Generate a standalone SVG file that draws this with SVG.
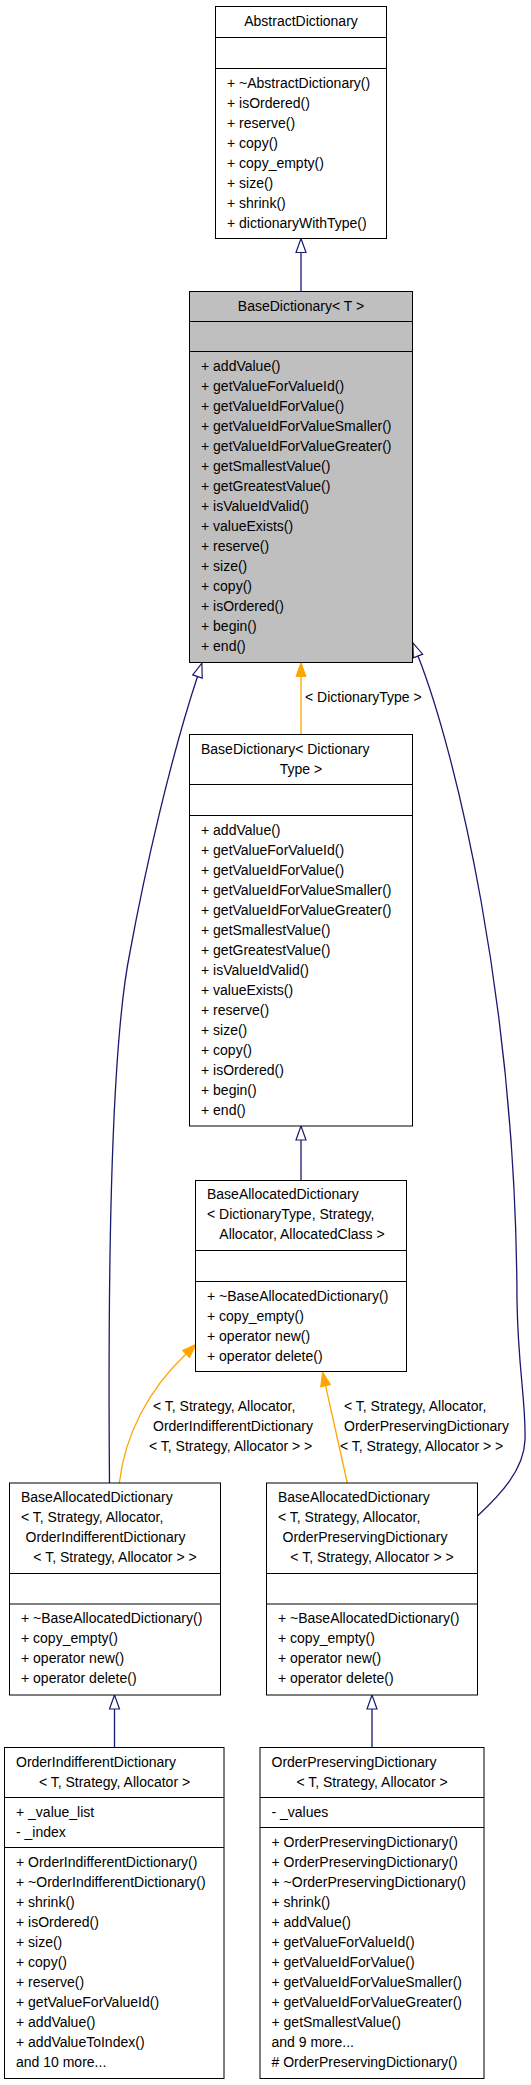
<svg xmlns="http://www.w3.org/2000/svg" width="531" height="2085" viewBox="0 0 531 2085">
<style>
.box{fill:#fff;stroke:#000;stroke-width:1}
.hl{fill:#bfbfbf}
.sep{stroke:#000;stroke-width:1}
text{font-family:"Liberation Sans",Arial,Helvetica,sans-serif;font-size:14px;fill:#000}
.c{text-anchor:middle}
.inh{fill:none;stroke:#191970;stroke-width:1.3}
.tpl{fill:none;stroke:#ffa500;stroke-width:1.3}
</style>
<defs>
<marker id="hollow" viewBox="-1 -1 16 12" refX="0" refY="5" markerWidth="16" markerHeight="12" markerUnits="userSpaceOnUse" orient="auto"><path d="M0,0 L14,5 L0,10 Z" fill="#fff" stroke="#191970" stroke-width="1.2"/></marker>
<marker id="filled" viewBox="-1 -1 16 12" refX="0" refY="5" markerWidth="16" markerHeight="12" markerUnits="userSpaceOnUse" orient="auto"><path d="M0,0 L14,5 L0,10 Z" fill="#ffa500" stroke="#ffa500" stroke-width="1"/></marker>
</defs>

<g id="connectors">
<path class="inh" d="M301,291.5 L301,252.5" marker-end="url(#hollow)"/>
<path class="tpl" d="M301,734.5 L301,676.5" marker-end="url(#filled)"/>
<path class="inh" d="M301,1180.5 L301,1140" marker-end="url(#hollow)"/>
<path class="tpl" d="M119.3,1483 C125,1435 148,1390 186,1354" marker-end="url(#filled)"/>
<path class="tpl" d="M347.3,1483 L325.6,1385.7" marker-end="url(#filled)"/>
<path class="inh" d="M109.5,1483 C108,1300 110,1050 130,952 C145,870 170,760 197.5,676.5" marker-end="url(#hollow)"/>
<path class="inh" d="M477.5,1516 C500,1495 524,1470 525,1440 C526,1400 518,1370 517,1300 C516,1000 455,750 418,656" marker-end="url(#hollow)"/>
<path class="inh" d="M114.5,1747.5 L114.5,1709" marker-end="url(#hollow)"/>
<path class="inh" d="M372,1747.5 L372,1709" marker-end="url(#hollow)"/>
<text x="305" y="702">&lt; DictionaryType &gt;</text>
<text x="153" y="1411">&lt; T, Strategy, Allocator,</text>
<text x="153" y="1431">OrderIndifferentDictionary</text>
<text x="149" y="1451">&lt; T, Strategy, Allocator &gt; &gt;</text>
<text x="344" y="1411">&lt; T, Strategy, Allocator,</text>
<text x="344" y="1431">OrderPreservingDictionary</text>
<text x="340" y="1451">&lt; T, Strategy, Allocator &gt; &gt;</text>
</g>

<g id="AbstractDictionary">
<rect class="box" x="215.5" y="6.5" width="171" height="232"/>
<line class="sep" x1="215.5" y1="37.5" x2="386.5" y2="37.5"/>
<line class="sep" x1="215.5" y1="68.5" x2="386.5" y2="68.5"/>
<text class="c" x="301" y="25.5">AbstractDictionary</text>
<text x="227">
<tspan x="227" y="87.5">+ ~AbstractDictionary()</tspan>
<tspan x="227" y="107.5">+ isOrdered()</tspan>
<tspan x="227" y="127.5">+ reserve()</tspan>
<tspan x="227" y="147.5">+ copy()</tspan>
<tspan x="227" y="167.5">+ copy_empty()</tspan>
<tspan x="227" y="187.5">+ size()</tspan>
<tspan x="227" y="207.5">+ shrink()</tspan>
<tspan x="227" y="227.5">+ dictionaryWithType()</tspan>
</text>
</g>

<g id="BaseDictionary_T">
<rect class="box hl" x="189.5" y="291.5" width="223" height="371"/>
<line class="sep" x1="189.5" y1="321.5" x2="412.5" y2="321.5"/>
<line class="sep" x1="189.5" y1="351.5" x2="412.5" y2="351.5"/>
<text class="c" x="301" y="310.5">BaseDictionary&lt; T &gt;</text>
<text x="201">
<tspan x="201" y="370.5">+ addValue()</tspan>
<tspan x="201" y="390.5">+ getValueForValueId()</tspan>
<tspan x="201" y="410.5">+ getValueIdForValue()</tspan>
<tspan x="201" y="430.5">+ getValueIdForValueSmaller()</tspan>
<tspan x="201" y="450.5">+ getValueIdForValueGreater()</tspan>
<tspan x="201" y="470.5">+ getSmallestValue()</tspan>
<tspan x="201" y="490.5">+ getGreatestValue()</tspan>
<tspan x="201" y="510.5">+ isValueIdValid()</tspan>
<tspan x="201" y="530.5">+ valueExists()</tspan>
<tspan x="201" y="550.5">+ reserve()</tspan>
<tspan x="201" y="570.5">+ size()</tspan>
<tspan x="201" y="590.5">+ copy()</tspan>
<tspan x="201" y="610.5">+ isOrdered()</tspan>
<tspan x="201" y="630.5">+ begin()</tspan>
<tspan x="201" y="650.5">+ end()</tspan>
</text>
</g>

<g id="BaseDictionary_DictionaryType">
<rect class="box" x="189.5" y="734.5" width="223" height="391.5"/>
<line class="sep" x1="189.5" y1="784.5" x2="412.5" y2="784.5"/>
<line class="sep" x1="189.5" y1="815.5" x2="412.5" y2="815.5"/>
<text x="201" y="753.5">BaseDictionary&lt; Dictionary</text>
<text class="c" x="301" y="773.5">Type &gt;</text>
<text x="201">
<tspan x="201" y="834.5">+ addValue()</tspan>
<tspan x="201" y="854.5">+ getValueForValueId()</tspan>
<tspan x="201" y="874.5">+ getValueIdForValue()</tspan>
<tspan x="201" y="894.5">+ getValueIdForValueSmaller()</tspan>
<tspan x="201" y="914.5">+ getValueIdForValueGreater()</tspan>
<tspan x="201" y="934.5">+ getSmallestValue()</tspan>
<tspan x="201" y="954.5">+ getGreatestValue()</tspan>
<tspan x="201" y="974.5">+ isValueIdValid()</tspan>
<tspan x="201" y="994.5">+ valueExists()</tspan>
<tspan x="201" y="1014.5">+ reserve()</tspan>
<tspan x="201" y="1034.5">+ size()</tspan>
<tspan x="201" y="1054.5">+ copy()</tspan>
<tspan x="201" y="1074.5">+ isOrdered()</tspan>
<tspan x="201" y="1094.5">+ begin()</tspan>
<tspan x="201" y="1114.5">+ end()</tspan>
</text>
</g>

<g id="BaseAllocatedDictionary_DictionaryType">
<rect class="box" x="195.5" y="1180.5" width="211" height="191"/>
<line class="sep" x1="195.5" y1="1250.5" x2="406.5" y2="1250.5"/>
<line class="sep" x1="195.5" y1="1281.5" x2="406.5" y2="1281.5"/>
<text x="207" y="1199">BaseAllocatedDictionary</text>
<text x="207" y="1219">&lt; DictionaryType, Strategy,</text>
<text class="c" x="302" y="1239">Allocator, AllocatedClass &gt;</text>
<text x="207">
<tspan x="207" y="1300.5">+ ~BaseAllocatedDictionary()</tspan>
<tspan x="207" y="1320.5">+ copy_empty()</tspan>
<tspan x="207" y="1340.5">+ operator new()</tspan>
<tspan x="207" y="1360.5">+ operator delete()</tspan>
</text>
</g>

<g id="BaseAllocatedDictionary_OrderIndifferent">
<rect class="box" x="9.5" y="1483" width="211" height="212"/>
<line class="sep" x1="9.5" y1="1573.5" x2="220.5" y2="1573.5"/>
<line class="sep" x1="9.5" y1="1604" x2="220.5" y2="1604"/>
<text x="21" y="1502">BaseAllocatedDictionary</text>
<text x="21" y="1522">&lt; T, Strategy, Allocator,</text>
<text x="25.5" y="1542">OrderIndifferentDictionary</text>
<text class="c" x="115" y="1562">&lt; T, Strategy, Allocator &gt; &gt;</text>
<text x="21">
<tspan x="21" y="1623">+ ~BaseAllocatedDictionary()</tspan>
<tspan x="21" y="1643">+ copy_empty()</tspan>
<tspan x="21" y="1663">+ operator new()</tspan>
<tspan x="21" y="1683">+ operator delete()</tspan>
</text>
</g>

<g id="BaseAllocatedDictionary_OrderPreserving">
<rect class="box" x="266.5" y="1483" width="211" height="212"/>
<line class="sep" x1="266.5" y1="1573.5" x2="477.5" y2="1573.5"/>
<line class="sep" x1="266.5" y1="1604" x2="477.5" y2="1604"/>
<text x="278" y="1502">BaseAllocatedDictionary</text>
<text x="278" y="1522">&lt; T, Strategy, Allocator,</text>
<text x="282.5" y="1542">OrderPreservingDictionary</text>
<text class="c" x="372" y="1562">&lt; T, Strategy, Allocator &gt; &gt;</text>
<text x="278">
<tspan x="278" y="1623">+ ~BaseAllocatedDictionary()</tspan>
<tspan x="278" y="1643">+ copy_empty()</tspan>
<tspan x="278" y="1663">+ operator new()</tspan>
<tspan x="278" y="1683">+ operator delete()</tspan>
</text>
</g>

<g id="OrderIndifferentDictionary">
<rect class="box" x="4.5" y="1747.5" width="219.5" height="331"/>
<line class="sep" x1="4.5" y1="1797.5" x2="224" y2="1797.5"/>
<line class="sep" x1="4.5" y1="1847.5" x2="224" y2="1847.5"/>
<text x="16" y="1766.5">OrderIndifferentDictionary</text>
<text class="c" x="114.5" y="1786.5">&lt; T, Strategy, Allocator &gt;</text>
<text x="16">
<tspan x="16" y="1816.5">+ _value_list</tspan>
<tspan x="16" y="1836.5">- _index</tspan>
</text>
<text x="16">
<tspan x="16" y="1866.5">+ OrderIndifferentDictionary()</tspan>
<tspan x="16" y="1886.5">+ ~OrderIndifferentDictionary()</tspan>
<tspan x="16" y="1906.5">+ shrink()</tspan>
<tspan x="16" y="1926.5">+ isOrdered()</tspan>
<tspan x="16" y="1946.5">+ size()</tspan>
<tspan x="16" y="1966.5">+ copy()</tspan>
<tspan x="16" y="1986.5">+ reserve()</tspan>
<tspan x="16" y="2006.5">+ getValueForValueId()</tspan>
<tspan x="16" y="2026.5">+ addValue()</tspan>
<tspan x="16" y="2046.5">+ addValueToIndex()</tspan>
<tspan x="16" y="2066.5">and 10 more...</tspan>
</text>
</g>

<g id="OrderPreservingDictionary">
<rect class="box" x="260" y="1747.5" width="224" height="331"/>
<line class="sep" x1="260" y1="1797.5" x2="484" y2="1797.5"/>
<line class="sep" x1="260" y1="1827.5" x2="484" y2="1827.5"/>
<text x="271.5" y="1766.5">OrderPreservingDictionary</text>
<text class="c" x="372" y="1786.5">&lt; T, Strategy, Allocator &gt;</text>
<text x="271.5" y="1816.5">- _values</text>
<text x="271.5">
<tspan x="271.5" y="1846.5">+ OrderPreservingDictionary()</tspan>
<tspan x="271.5" y="1866.5">+ OrderPreservingDictionary()</tspan>
<tspan x="271.5" y="1886.5">+ ~OrderPreservingDictionary()</tspan>
<tspan x="271.5" y="1906.5">+ shrink()</tspan>
<tspan x="271.5" y="1926.5">+ addValue()</tspan>
<tspan x="271.5" y="1946.5">+ getValueForValueId()</tspan>
<tspan x="271.5" y="1966.5">+ getValueIdForValue()</tspan>
<tspan x="271.5" y="1986.5">+ getValueIdForValueSmaller()</tspan>
<tspan x="271.5" y="2006.5">+ getValueIdForValueGreater()</tspan>
<tspan x="271.5" y="2026.5">+ getSmallestValue()</tspan>
<tspan x="271.5" y="2046.5">and 9 more...</tspan>
<tspan x="271.5" y="2066.5"># OrderPreservingDictionary()</tspan>
</text>
</g>
</svg>
